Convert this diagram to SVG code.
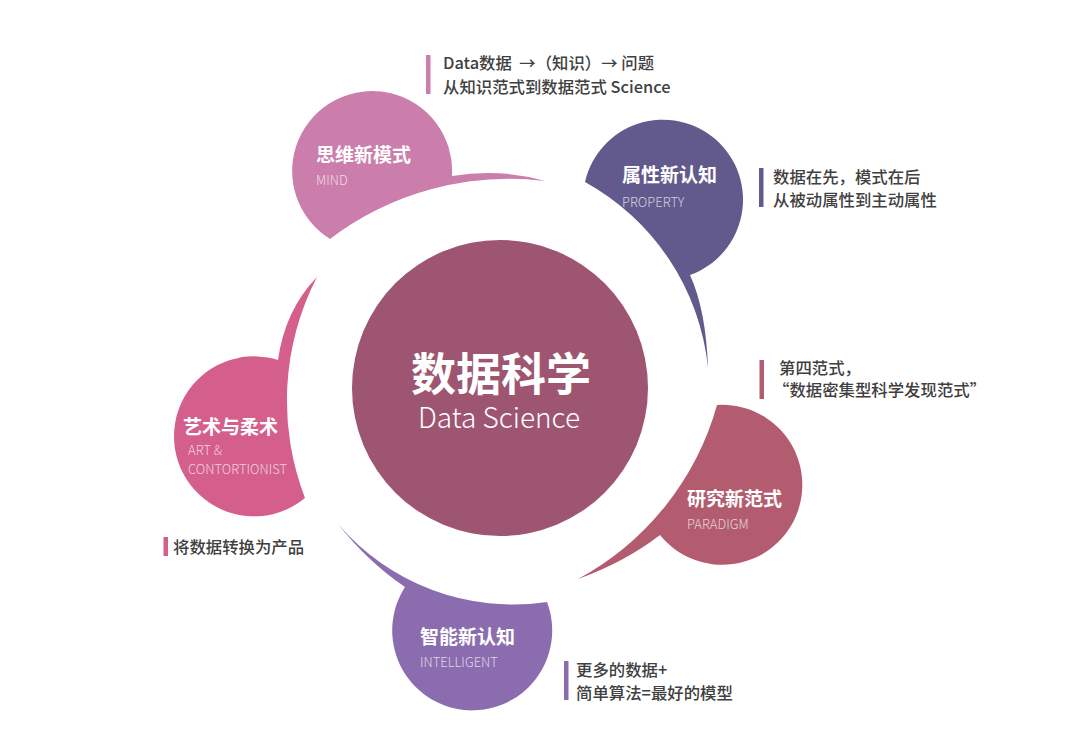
<svg xmlns="http://www.w3.org/2000/svg" width="1080" height="754" viewBox="0 0 1080 754">
<style>
.t{font-family:"Noto Sans CJK SC","Noto Sans",sans-serif;font-weight:700;font-size:19px;fill:#fff}
.e{font-family:"Noto Sans CJK SC","Noto Sans",sans-serif;font-weight:300;font-size:13px;fill:#fff;fill-opacity:0.72}
.a{font-family:"Noto Sans CJK SC","Noto Sans",sans-serif;font-weight:500;font-size:16.4px;fill:#404040}
</style>
<rect width="1080" height="754" fill="#fff"/>
<g id="mind">
<path d="M452,176 A80,80 0 1 0 330,239 A297,297 0 0 1 545,181 Q500,168 452,176 Z" fill="#CB7DAB"/>
<text class="t" x="316" y="162">思维新模式</text>
<text class="e" x="316" y="185">MIND</text>
<rect x="426" y="55" width="4.5" height="39" fill="#CB7DAB"/>
<text class="a" x="443" y="69">Data数据&#160; →（知识）→ 问题</text>
<text class="a" x="443" y="93">从知识范式到数据范式 Science</text>
</g>
<g id="property">
<path d="M708,368 A240,240 0 0 0 585,182 A80,80 0 1 1 690,275 Q706,310 708,368 Z" fill="#625A8D"/>
<text class="t" x="622" y="182">属性新认知</text>
<text class="e" x="622" y="207">PROPERTY</text>
<rect x="759" y="168" width="4.5" height="39" fill="#625A8D"/>
<text class="a" x="773" y="183">数据在先，模式在后</text>
<text class="a" x="773" y="206">从被动属性到主动属性</text>
</g>
<g id="paradigm">
<path d="M717,405 A80,80 0 1 1 660,535 Q625,562 578,579 A285,285 0 0 0 717,405 Z" fill="#B35C6F"/>
<text class="t" x="687" y="506">研究新范式</text>
<text class="e" x="687" y="529">PARADIGM</text>
<rect x="759.5" y="360" width="4.5" height="39" fill="#B35C6F"/>
<text class="a" x="779" y="374">第四范式，</text>
<text class="a" x="773" y="396">“数据密集型科学发现范式”</text>
</g>
<g id="intelligent">
<path d="M547,602 A80,80 0 1 1 405,587 Q368,562 338,524 A230,230 0 0 0 547,602 Z" fill="#8B6DAF"/>
<text class="t" x="420" y="644">智能新认知</text>
<text class="e" x="420" y="667">INTELLIGENT</text>
<rect x="564" y="661" width="4.5" height="39" fill="#8B6DAF"/>
<text class="a" x="576" y="676">更多的数据+</text>
<text class="a" x="576" y="699">简单算法=最好的模型</text>
</g>
<g id="art">
<path d="M305,498 A80,80 0 1 1 278,360 Q285,310 317,277 A270,270 0 0 0 305,498 Z" fill="#D45E8C"/>
<text class="t" x="183" y="434">艺术与柔术</text>
<text class="e" x="188" y="455">ART &amp;</text>
<text class="e" x="188" y="474">CONTORTIONIST</text>
<rect x="163.5" y="537" width="4.5" height="19" fill="#D45E8C"/>
<text class="a" x="173" y="553">将数据转换为产品</text>
</g>
<g id="center">
<circle cx="500" cy="388" r="148" fill="#9E5571"/>
<text x="501" y="391" text-anchor="middle" font-family="Noto Sans CJK SC, sans-serif" font-weight="700" font-size="45" fill="#fff">数据科学</text>
<text x="499" y="428" text-anchor="middle" font-family="Noto Sans CJK SC, sans-serif" font-weight="300" font-size="28" fill="#fff">Data Science</text>
</g>
<g id="connectors"></g>
</svg>
